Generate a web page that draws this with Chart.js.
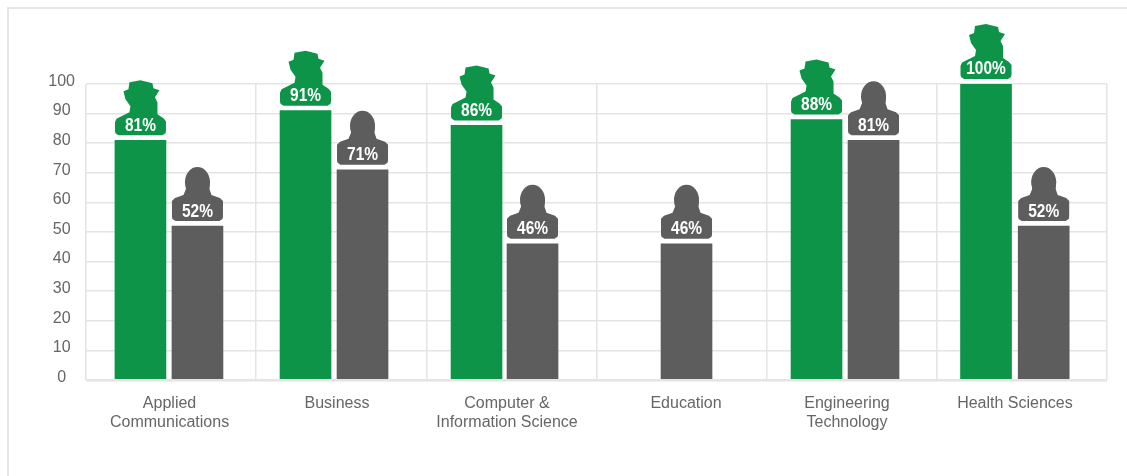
<!DOCTYPE html>
<html>
<head>
<meta charset="utf-8">
<script src="https://cdn.jsdelivr.net/npm/chart.js@4"></script>
<style>
  html, body { margin: 0; background: #fff; overflow: hidden; }
  #frame { position: absolute; left: 7px; top: 7px; right: 0; bottom: 0; border-left: 2px solid #e6e6e6; border-top: 2px solid #e6e6e6; }
  canvas { position: absolute; left: 0; top: 0; }
</style>
</head>
<body>
<div id="frame"></div>
<canvas id="mixed" width="1127" height="476"></canvas>
<script>
const categories = [
  ['Applied', 'Communications'],
  ['Business'],
  ['Computer &', 'Information Science'],
  ['Education'],
  ['Engineering', 'Technology'],
  ['Health Sciences']
];
const greenValues = [81, 91, 86, null, 88, 100];
const greyValues = [52, 71, 46, 46, 81, 52];
const yTicks = [0, 10, 20, 30, 40, 50, 60, 70, 80, 90, 100];

// the groups do not sit evenly in their slots in the original, so these are axis units (slot = 1)
const greenAt = [0.320, 1.290, 2.295, null, 4.293, 5.289];
const greyAt = [0.655, 1.625, 2.624, 3.529, 4.628, 5.628];
const labelAt = [0.491, 1.475, 2.474, 3.526, 4.472, 5.459];

const GREEN = '#0e9449';
const GREY = '#5d5d5d';
const GRID = '#e4e4e4';
const TEXT = '#666666';

const greenShape = [[-25.5,-9],[-25,-7],[-22,-5],[22,-5],[25,-7],[25.5,-9],[25.5,-19],[23,-22],[17,-26],[17,-38],[14.5,-43],[19,-50],[13,-52],[12,-57],[0,-60],[-11,-58],[-12,-51],[-17,-49],[-15,-41],[-10,-34],[-11,-28],[-24,-21.5],[-25.5,-18]];
const greyShape = [[-25.5,-9],[-25,-7],[-22,-5],[22,-5],[25,-7],[25.5,-9],[25.5,-25],[22.5,-28],[14,-31],[12,-37],[12.5,-45],[-12,-45],[-11.5,-37],[-14,-31],[-22.5,-28],[-25.5,-25]];

function toPoints(values, positions) {
  return values
    .map((v, i) => ({ x: positions[i], y: v }))
    .filter(p => p.y !== null);
}

// silhouette with the percentage, sitting on top of each bar
const badges = {
  id: 'badges',
  afterDatasetsDraw(chart) {
    const ctx = chart.ctx;
    chart.data.datasets.forEach((ds, d) => {
      const shape = d === 0 ? greenShape : greyShape;
      chart.getDatasetMeta(d).data.forEach((bar, i) => {
        ctx.save();
        ctx.translate(bar.x, bar.y);
        ctx.fillStyle = ds.backgroundColor;
        ctx.beginPath();
        shape.forEach((p, n) => n ? ctx.lineTo(p[0], p[1]) : ctx.moveTo(p[0], p[1]));
        ctx.closePath();
        ctx.fill();
        if (d === 1) {
          // round head
          ctx.beginPath();
          ctx.ellipse(0, -44, 12.5, 15, 0, 0, Math.PI * 2);
          ctx.fill();
        }
        // the original figures are condensed, no narrow face is installed
        ctx.scale(0.86, 1);
        ctx.fillStyle = '#fff';
        ctx.font = 'bold 18px "Liberation Sans"';
        ctx.textAlign = 'center';
        ctx.textBaseline = 'middle';
        ctx.fillText(ds.data[i].y + '%', 0, -14.5);
        ctx.restore();
      });
    });
  }
};

let chart = new Chart(document.getElementById('mixed'), {
  type: 'bar',
  plugins: [badges],
  data: {
    datasets: [{
      label: 'Green',
      data: toPoints(greenValues, greenAt),
      backgroundColor: GREEN,
      grouped: false,
      barThickness: 51
    }, {
      label: 'Grey',
      data: toPoints(greyValues, greyAt),
      backgroundColor: GREY,
      grouped: false,
      barThickness: 51
    }]
  },
  options: {
    responsive: false,
    animation: false,
    layout: { padding: { top: 84, right: 20, left: 0, bottom: 0 } },
    plugins: { legend: { display: false }, tooltip: { enabled: false } },
    scales: {
      x: {
        type: 'linear',
        min: 0,
        max: 6,
        offset: false,
        grid: { display: false, offset: false },
        border: { display: false },
        afterBuildTicks(axis) { axis.ticks = labelAt.map(value => ({ value })); },
        afterFit(axis) { axis.height = 96; },
        ticks: {
          autoSkip: false,
          maxRotation: 0,
          padding: 6,
          color: TEXT,
          font: { family: '"Liberation Sans"', size: 16, lineHeight: 1.2 },
          callback: (value, index) => categories[index]
        }
      },
      xGrid: {
        type: 'linear',
        axis: 'x',
        position: 'bottom',
        min: 0,
        max: 6,
        offset: false,
        afterFit(axis) { axis.height = 0; },
        grid: { color: GRID, lineWidth: 1.5, drawTicks: false, offset: false },
        border: { display: false },
        ticks: { display: false, stepSize: 1 }
      },
      y: {
        min: 0,
        max: 100,
        position: 'left',
        afterFit(axis) { axis.width = 0; },
        grid: { color: GRID, lineWidth: ctx => ctx.tick.value === 0 ? 2.5 : 1.5, drawTicks: false },
        border: { display: false },
        ticks: { display: false, stepSize: 10 }
      },
      // tick labels stand a little above their grid lines, so they get an axis of their own
      yLabels: {
        type: 'linear',
        axis: 'y',
        position: 'left',
        min: -0.85,
        max: 99.15,
        grid: { display: false },
        border: { display: false },
        afterBuildTicks(axis) { axis.ticks = yTicks.map(value => ({ value })); },
        afterFit(axis) { axis.width = 86; },
        ticks: {
          autoSkip: false,
          padding: 3,
          crossAlign: 'center',
          color: TEXT,
          font: { family: '"Liberation Sans"', size: 16 }
        }
      }
    }
  }
});
</script>
</body>
</html>
